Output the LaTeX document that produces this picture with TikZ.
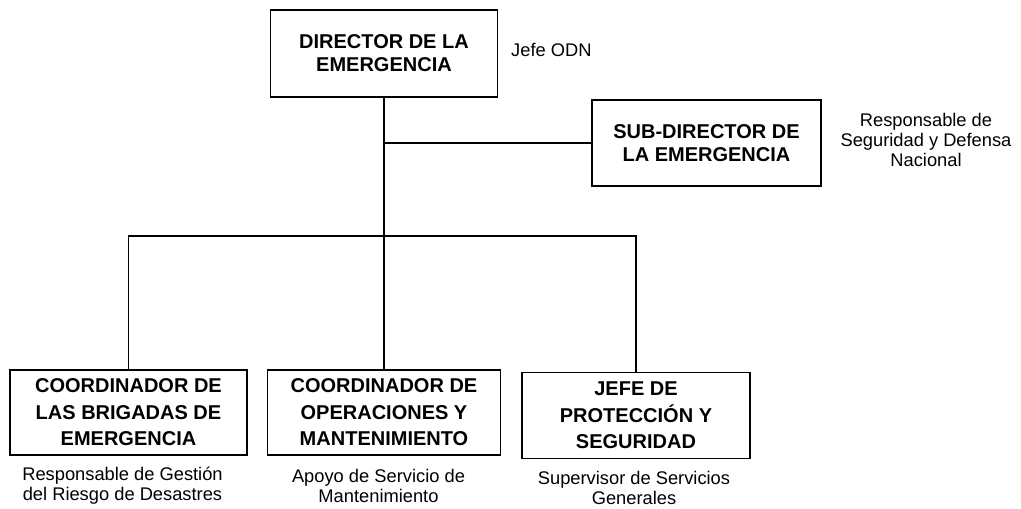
\documentclass[tikz,border=0pt]{standalone}
\usepackage{fontspec}
\setmainfont{Liberation Sans}
\begin{document}
\begin{tikzpicture}[x=1pt,y=-1pt,
  box/.style={draw,line width=1.3pt,rectangle,align=center,inner sep=0pt,
    font=\bfseries\fontsize{20}{23}\selectfont},
  lowbox/.style={box,font=\bfseries\fontsize{20}{26.5}\selectfont},
  captxt/.style={align=center,inner sep=0pt,font=\fontsize{18.3}{19.8}\selectfont},
  link/.style={line width=1.3pt}]
\useasboundingbox (0,0) rectangle (1021,509);
\node[box,minimum width=227pt,minimum height=87pt] (dir) at (384,53.5) {DIRECTOR DE LA\\EMERGENCIA};
\node[box,minimum width=229pt,minimum height=86pt] (sub) at (706.5,143) {SUB-DIRECTOR DE\\LA EMERGENCIA};
\node[lowbox,minimum width=237pt,minimum height=85pt] (b1) at (128.5,412.5) {COORDINADOR DE\\LAS BRIGADAS DE\\EMERGENCIA};
\node[lowbox,minimum width=233pt,minimum height=85pt] (b2) at (384,412.5) {COORDINADOR DE\\OPERACIONES Y\\MANTENIMIENTO};
\node[lowbox,minimum width=228pt,minimum height=86pt] (b3) at (636,415.5) {JEFE DE\\PROTECCIÓN Y\\SEGURIDAD};
\node[captxt,anchor=west] (jefe) at (511,50) {Jefe ODN};
\node[captxt] (csub) at (926,140) {Responsable de\\Seguridad y Defensa\\Nacional};
\node[captxt] (c1) at (122.5,486) {Responsable de Gestión\\del Riesgo de Desastres};
\node[captxt] (c2) at (378.5,486) {Apoyo de Servicio de\\Mantenimiento};
\node[captxt] (c3) at (634,488) {Supervisor de Servicios\\Generales};
\coordinate (bus) at (384,236);
\draw[link] (dir.south) -- (b2.north);
\draw[link] (dir.south |- sub.west) -- (sub.west);
\draw[link] (b1.north) -- (b1.north |- bus) -- (b3.north |- bus) -- (b3.north);
\end{tikzpicture}
\end{document}
